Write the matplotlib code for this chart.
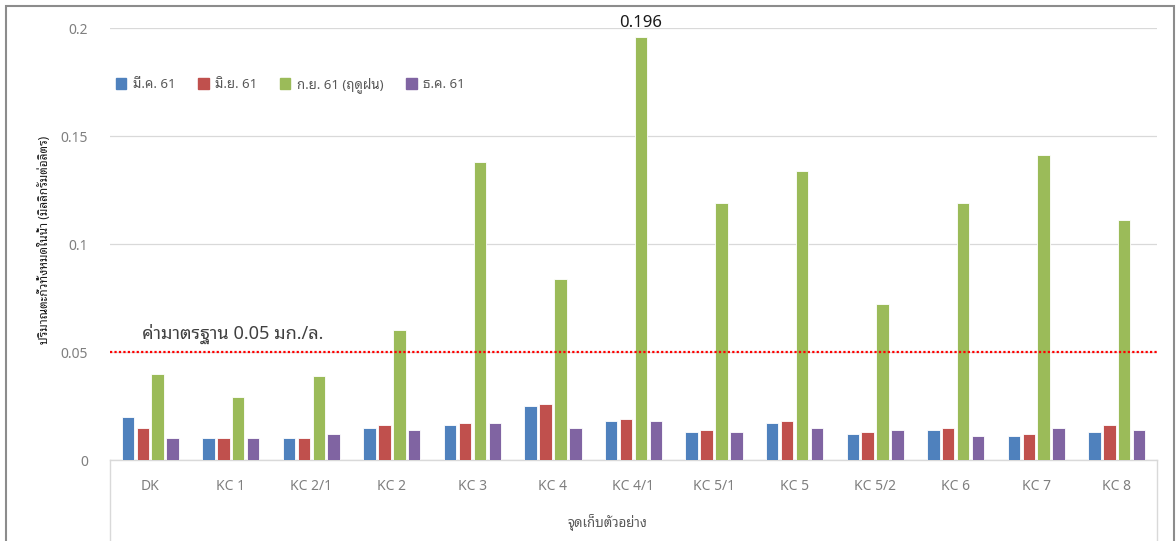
import matplotlib
matplotlib.use("Agg")
import matplotlib.pyplot as plt
from matplotlib import font_manager
from matplotlib.patches import Rectangle
from matplotlib.lines import Line2D
import numpy as np

# pick a Thai font that is actually installed
names = {f.name for f in font_manager.fontManager.ttflist}
thai = next((n for n in ['Noto Sans Thai Looped', 'Noto Sans Thai', 'Sarabun', 'Anuphan']
             if n in names), 'DejaVu Sans')
plt.rcParams['font.family'] = [thai, 'Noto Sans', 'DejaVu Sans']

sites = ['DK', 'KC 1', 'KC 2/1', 'KC 2', 'KC 3', 'KC 4', 'KC 4/1',
         'KC 5/1', 'KC 5', 'KC 5/2', 'KC 6', 'KC 7', 'KC 8']
series_names = ['มี.ค. 61', 'มิ.ย. 61', 'ก.ย. 61 (ฤดูฝน)', 'ธ.ค. 61']
mar61 = [0.020, 0.010, 0.010, 0.015, 0.016, 0.025, 0.018, 0.013, 0.017, 0.012, 0.014, 0.011, 0.013]
jun61 = [0.015, 0.010, 0.010, 0.016, 0.017, 0.026, 0.019, 0.014, 0.018, 0.013, 0.015, 0.012, 0.016]
sep61 = [0.040, 0.029, 0.039, 0.060, 0.138, 0.084, 0.196, 0.119, 0.134, 0.072, 0.119, 0.141, 0.111]
dec61 = [0.010, 0.010, 0.012, 0.014, 0.017, 0.015, 0.018, 0.013, 0.015, 0.014, 0.011, 0.015, 0.014]
standard = 0.05
colors = ['#4F81BD', '#C0504D', '#9BBB59', '#8064A2']

fig = plt.figure(figsize=(11.76, 5.41), dpi=100)
ax = fig.add_axes([110/1176, 1-460/541, 1047/1176, 432/541])

x = np.arange(len(sites))
pitch = 0.185
width = 0.155
for i, (vals, c) in enumerate(zip([mar61, jun61, sep61, dec61], colors)):
    ax.bar(x + (i - 1.5)*pitch, vals, width, color=c, edgecolor='white',
           linewidth=0.6, zorder=3)

# label for the highest value
imax = int(np.argmax(sep61))
ax.text(x[imax] + 0.5*pitch, 0.2004, f'{sep61[imax]}', ha='center', va='baseline',
        fontsize=12, color='#1a1a1a', family=['Noto Sans'], clip_on=False)

ax.axhline(standard, color='#FF0000', linestyle=(0, (1, 1)), linewidth=1.6, zorder=4)
ax.text(0.031, standard + 0.0035, 'ค่ามาตรฐาน 0.05 มก./ล.', transform=ax.get_yaxis_transform(),
        fontsize=13, color='#404040', va='bottom', ha='left')

ax.set_xlim(-0.5, len(sites) - 0.5)
ax.set_ylim(0, 0.2)
ax.set_yticks([0, 0.05, 0.1, 0.15, 0.2])
ax.set_yticklabels(['0', '0.05', '0.1', '0.15', '0.2'], family=['Noto Sans'])
ax.set_xticks(x)
ax.set_xticklabels(sites, family=['Noto Sans'])
ax.tick_params(axis='y', length=0, pad=16, labelsize=10, labelcolor='#7f7f7f')
ax.tick_params(axis='x', length=0, pad=14, labelsize=10, labelcolor='#7f7f7f')
ax.grid(axis='y', color='#D9D9D9', linewidth=0.9, zorder=0)
for s in ['top', 'left', 'right']:
    ax.spines[s].set_visible(False)
ax.spines['bottom'].set_color('#D9D9D9')
ax.spines['bottom'].set_linewidth(1.0)

# category box below the axis
for xx in [0, 1]:
    ax.add_line(Line2D([xx, xx], [0, -0.2], transform=ax.transAxes, color='#D9D9D9',
                       linewidth=1.0, clip_on=False))

fig.text(45/1176, 1-240/541, 'ปริมาณตะกั่วทั้งหมดในน้ำ (มิลลิกรัมต่อลิตร)', rotation=90,
         ha='center', va='center', fontsize=8.5, color='#1a1a1a')
fig.text(608/1176, 1-522/541, 'จุดเก็บตัวอย่าง', ha='center', va='center',
         fontsize=9.5, color='#595959')

handles = [Rectangle((0, 0), 1, 1, color=c) for c in colors]
fig.legend(handles, series_names, loc='center left', bbox_to_anchor=(104/1176, 1-85/541),
           ncol=4, frameon=False, fontsize=9.5, labelcolor='#595959',
           handlelength=0.8, handleheight=0.8, handletextpad=0.5, columnspacing=1.7)

fig.patches.append(Rectangle((6/1176, -0.02), 1168/1176, 1-6/541+0.02, transform=fig.transFigure,
                             fill=False, edgecolor='#8c8c8c', linewidth=1.5))

fig.savefig('out.png', dpi=100)
